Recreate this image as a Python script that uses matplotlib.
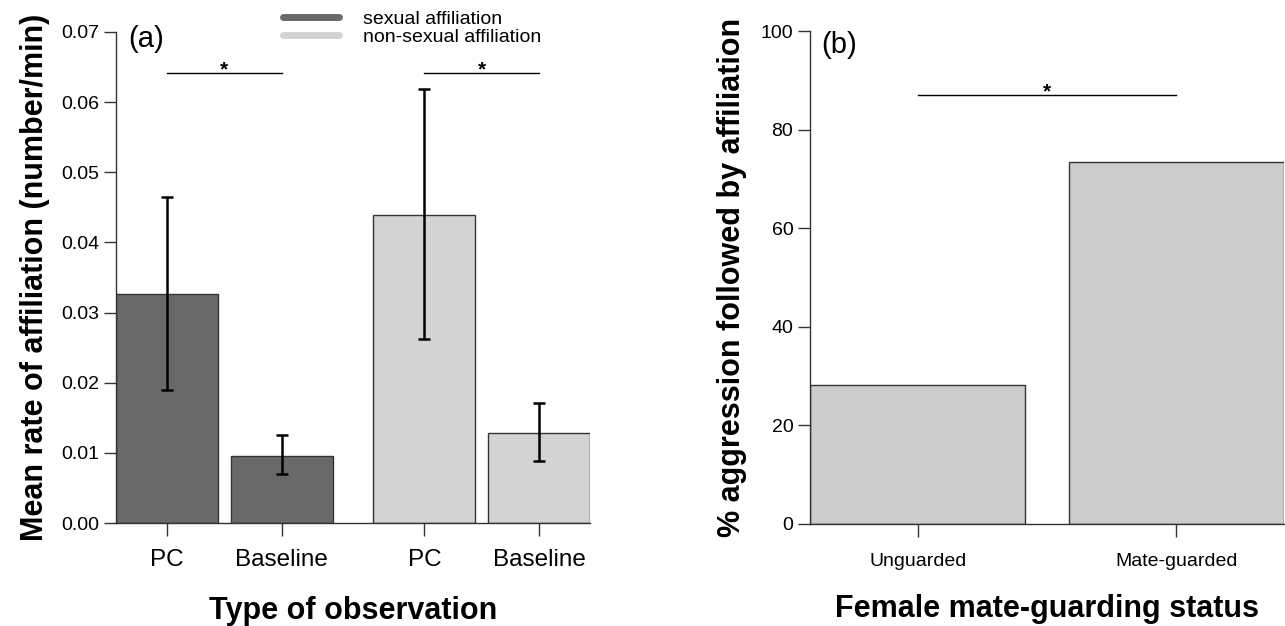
import numpy as np
import matplotlib
matplotlib.use("Agg")
from matplotlib import pyplot as plt
from matplotlib.lines import Line2D

plt.rcParams['font.family'] = ['Liberation Sans', 'DejaVu Sans']

# panel (a) data
obs_labels = ["PC", "Baseline", "PC", "Baseline"]
rate_mean = [0.0326, 0.0096, 0.0439, 0.0129]
rate_low = [0.0190, 0.0070, 0.0262, 0.0088]
rate_high = [0.0465, 0.0126, 0.0619, 0.0171]
series_names = ["sexual affiliation", "non-sexual affiliation"]
series_colors = ["#696969", "#d3d3d3"]

# panel (b) data
status_labels = ["Unguarded", "Mate-guarded"]
pct_followed = [28.2, 73.5]

sig_a_y = 0.0641
sig_b_y = 87.0

fig = plt.figure(figsize=(12.85, 6.26), dpi=100)

W, H = 1285, 626


def px_axes(x0, x1, ytop, ybot):
    return fig.add_axes([x0 / W, 1 - ybot / H, (x1 - x0) / W, (ybot - ytop) / H])


def r_style(ax):
    for s in ["top", "right"]:
        ax.spines[s].set_visible(False)
    for s in ["left", "bottom"]:
        ax.spines[s].set_color("#333333")
        ax.spines[s].set_linewidth(1.0)
    ax.tick_params(direction="out", length=9, width=1.0, color="#333333")


# ---- panel (a)
ax1 = px_axes(116, 590, 32, 523)
xpos = np.array([0.5, 1.625, 3.025, 4.15])
cols = [series_colors[0], series_colors[0], series_colors[1], series_colors[1]]
ax1.bar(xpos, rate_mean, width=1.0, color=cols, edgecolor="#333333", linewidth=1.0, zorder=2)
yerr = [np.array(rate_mean) - np.array(rate_low), np.array(rate_high) - np.array(rate_mean)]
ax1.errorbar(xpos, rate_mean, yerr=yerr, fmt="none", ecolor="black", elinewidth=1.8,
             capsize=4, capthick=1.8, zorder=3)
ax1.set_xlim(0, 4.65)
ax1.set_ylim(0, 0.07)
r_style(ax1)
ax1.set_yticks(np.arange(0, 0.0701, 0.01))
ax1.set_yticklabels(["%.2f" % v for v in np.arange(0, 0.0701, 0.01)], fontsize=14)
ax1.set_xticks(xpos)
ax1.set_xticklabels(obs_labels, fontsize=17.5)
ax1.tick_params(axis="x", pad=10)
ax1.tick_params(axis="y", pad=3)
ax1.set_ylabel("Mean rate of affiliation (number/min)", fontsize=22, fontweight="bold", labelpad=8)
ax1.set_xlabel("Type of observation", fontsize=22, fontweight="bold", labelpad=18)
ax1.text(0.12, 0.069, "(a)", fontsize=21, va="center", ha="left")
for i, j in [(0, 1), (2, 3)]:
    ax1.plot([xpos[i], xpos[j]], [sig_a_y, sig_a_y], color="black", lw=1.0, clip_on=False)
    ax1.text((xpos[i] + xpos[j]) / 2, sig_a_y - 0.0009, "*", ha="center", va="bottom",
             fontsize=15, fontweight="bold")

handles = [Line2D([], [], color=c, lw=5, solid_capstyle="round") for c in series_colors]
fig.legend(handles, series_names, loc="upper left", bbox_to_anchor=(283 / W, 1 - 10 / H),
           frameon=False, fontsize=14, handlelength=2.9, handletextpad=1.2,
           labelspacing=0.05, borderpad=0, borderaxespad=0)

# ---- panel (b)
ax2 = px_axes(810, 1284, 31, 524)
xb = np.array([0.5, 1.7])
ax2.bar(xb, pct_followed, width=1.0, color="#cccccc", edgecolor="#333333", linewidth=1.0, zorder=2)
ax2.set_xlim(0, 2.2)
ax2.set_ylim(0, 100)
r_style(ax2)
ax2.set_yticks(np.arange(0, 101, 20))
ax2.tick_params(axis="y", labelsize=14, pad=3)
ax2.set_xticks(xb)
ax2.set_xticklabels(status_labels, fontsize=14)
ax2.tick_params(axis="x", pad=12)
ax2.set_ylabel("% aggression followed by affiliation", fontsize=22, fontweight="bold", labelpad=10)
ax2.set_xlabel("Female mate-guarding status", fontsize=22, fontweight="bold", labelpad=17)
ax2.text(0.05, 97.2, "(b)", fontsize=21, va="center", ha="left")
ax2.plot([xb[0], xb[1]], [sig_b_y, sig_b_y], color="black", lw=1.0)
ax2.text(xb.mean(), sig_b_y - 1.2, "*", ha="center", va="bottom", fontsize=15, fontweight="bold")

fig.savefig("out.png", dpi=100)
